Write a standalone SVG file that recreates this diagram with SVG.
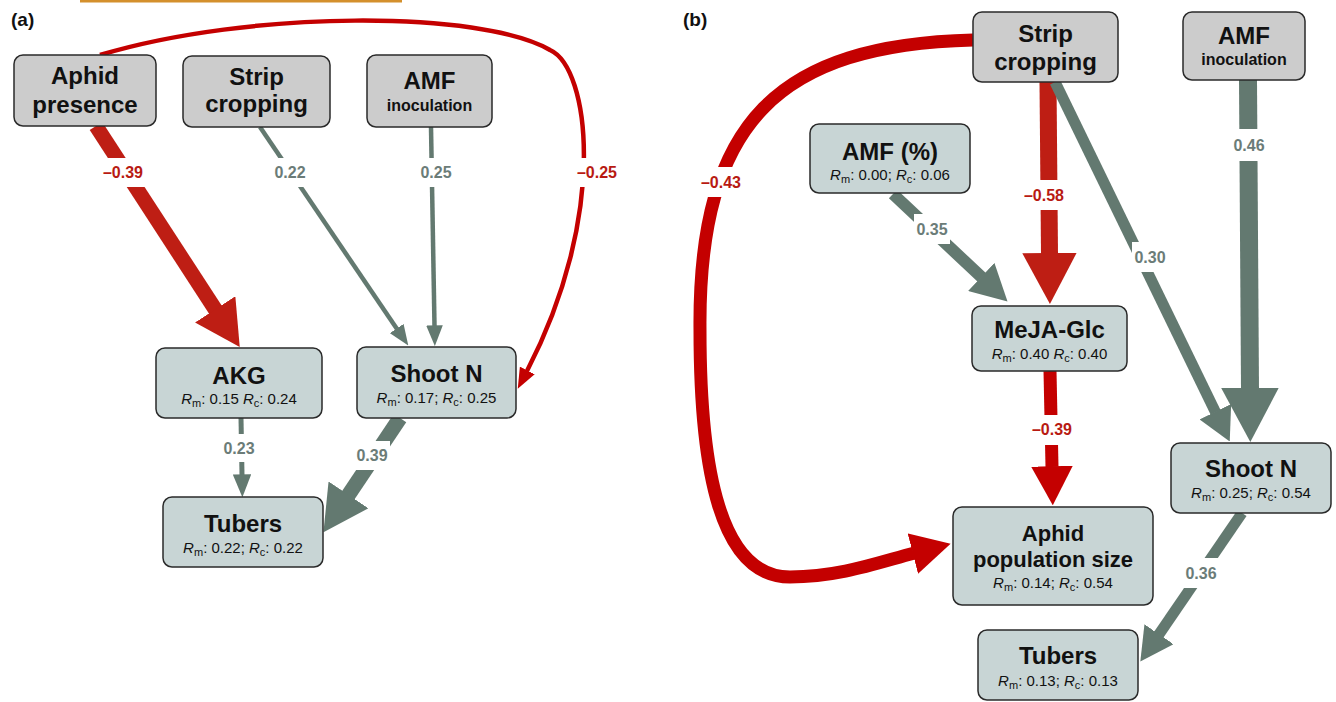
<svg xmlns="http://www.w3.org/2000/svg" width="1336" height="702" viewBox="0 0 1336 702">
<style>
text{font-family:"Liberation Sans",Arial,sans-serif;fill:#111}
.ex{fill:#cccccc;stroke:#2a2a2a;stroke-width:1.5}
.en{fill:#c8d5d5;stroke:#2a2a2a;stroke-width:1.5}
.t{font-size:24px;font-weight:bold;text-anchor:middle}
.t2{font-size:22px;font-weight:bold;text-anchor:middle}
.sm{font-size:16px;font-weight:bold;text-anchor:middle}
.sub{font-size:15px;text-anchor:middle}
.it{font-style:italic}
.lr{font-size:16px;font-weight:bold;text-anchor:middle;fill:#b81a12}
.lg{font-size:16px;font-weight:bold;text-anchor:middle;fill:#6b7c78}
.bg{fill:#ffffff}
.c{fill:none;stroke-linecap:butt}
.ra{stroke:#be1e14}
.rb{stroke:#c40000}
.g{stroke:#637970}
.pl{font-size:19px;font-weight:bold}
</style>
<defs>
<marker id="tR" viewBox="0 0 10 10" refX="0.3" refY="5" markerWidth="4.6" markerHeight="3.7" markerUnits="strokeWidth" orient="auto" preserveAspectRatio="none"><path d="M0,0 L10,5 L0,10 z" fill="#c40000"/></marker>
<marker id="tG" viewBox="0 0 10 10" refX="0.3" refY="5" markerWidth="4.6" markerHeight="3.7" markerUnits="strokeWidth" orient="auto" preserveAspectRatio="none"><path d="M0,0 L10,5 L0,10 z" fill="#637970"/></marker>
<marker id="kRa" viewBox="0 0 10 10" refX="0.2" refY="5" markerWidth="3" markerHeight="3.2" markerUnits="strokeWidth" orient="auto" preserveAspectRatio="none"><path d="M0,0 L10,5 L0,10 z" fill="#be1e14"/></marker>
<marker id="kR" viewBox="0 0 10 10" refX="0.2" refY="5" markerWidth="3" markerHeight="3.2" markerUnits="strokeWidth" orient="auto" preserveAspectRatio="none"><path d="M0,0 L10,5 L0,10 z" fill="#c40000"/></marker>
<marker id="kG" viewBox="0 0 10 10" refX="0.2" refY="5" markerWidth="3" markerHeight="3.2" markerUnits="strokeWidth" orient="auto" preserveAspectRatio="none"><path d="M0,0 L10,5 L0,10 z" fill="#637970"/></marker>
</defs>
<rect width="1336" height="702" fill="#ffffff"/>
<rect x="80" y="0" width="322" height="2.5" fill="#d4902c"/>
<text class="pl" x="11" y="26">(a)</text>
<text class="pl" x="683" y="26">(b)</text>

<g id="connectors">
  <!-- panel a -->
  <path class="c ra" stroke-width="15" d="M96 126 L215.7 310.1" marker-end="url(#kRa)"/>
  <path class="c g" stroke-width="4.5" d="M260 127 L397 329" marker-end="url(#tG)"/>
  <path class="c g" stroke-width="4.5" d="M431 127 L434.5 326" marker-end="url(#tG)"/>
  <path class="c rb" stroke-width="4.5" d="M100 55 C250 10 480 10 550 50 C590 68 608 215 527 371" marker-end="url(#tR)"/>
  <path class="c g" stroke-width="5" d="M241 418 L242 475" marker-end="url(#tG)"/>
  <path class="c g" stroke-width="15" d="M400 418 L348 495.6" marker-end="url(#kG)"/>
  <!-- panel b -->
  <path class="c rb" stroke-width="13" d="M973 40 C780 45 698 120 700 330 C700 470 720 577 790 577 C840 577 880 562 913.6 553.3" marker-end="url(#kR)"/>
  <path class="c ra" stroke-width="17" d="M1048 82 L1049.5 254" marker-end="url(#kRa)"/>
  <path class="c g" stroke-width="11" d="M1055 82 L1215.6 412.3" marker-end="url(#kG)"/>
  <path class="c g" stroke-width="18" d="M1248 80 L1250 389" marker-end="url(#kG)"/>
  <path class="c g" stroke-width="12" d="M893 194 L981.8 277.4" marker-end="url(#kG)"/>
  <path class="c g" stroke-width="11" d="M1242 513 L1158.6 634.8" marker-end="url(#kG)"/>
  <path class="c rb" stroke-width="13" d="M1050 371 L1052 467" marker-end="url(#kR)"/>
  <!-- labels -->
  <g id="edge-labels">
    <rect class="bg" x="100" y="158" width="46" height="29"/><text class="lr" x="123" y="178">–0.39</text>
    <rect class="bg" x="272" y="158" width="36" height="29"/><text class="lg" x="290" y="178">0.22</text>
    <rect class="bg" x="418" y="158" width="36" height="29"/><text class="lg" x="436" y="178">0.25</text>
    <rect class="bg" x="574" y="158" width="46" height="29"/><text class="lr" x="597" y="178">–0.25</text>
    <rect class="bg" x="221" y="434" width="36" height="28"/><text class="lg" x="239" y="454">0.23</text>
    <rect class="bg" x="354" y="441" width="36" height="29"/><text class="lg" x="372" y="461">0.39</text>
    <rect class="bg" x="698" y="167" width="46" height="30"/><text class="lr" x="721" y="188">–0.43</text>
    <rect class="bg" x="1021" y="180" width="46" height="30"/><text class="lr" x="1044" y="201">–0.58</text>
    <rect class="bg" x="1132" y="242" width="36" height="30"/><text class="lg" x="1150" y="263">0.30</text>
    <rect class="bg" x="1231" y="129" width="36" height="32"/><text class="lg" x="1249" y="151">0.46</text>
    <rect class="bg" x="914" y="214" width="36" height="30"/><text class="lg" x="932" y="235">0.35</text>
    <rect class="bg" x="1183" y="558" width="36" height="30"/><text class="lg" x="1201" y="579">0.36</text>
    <rect class="bg" x="1029" y="415" width="46" height="30"/><text class="lr" x="1052" y="435">–0.39</text>
  </g>
</g>

<g id="aphid-presence">
  <rect class="ex" x="14" y="55" width="142" height="71" rx="9"/>
  <text class="t" x="85" y="84">Aphid</text>
  <text class="t" x="85" y="113">presence</text>
</g>
<g id="strip-cropping-a">
  <rect class="ex" x="183" y="56" width="147" height="71" rx="9"/>
  <text class="t" x="256.5" y="85">Strip</text>
  <text class="t" x="256.5" y="112">cropping</text>
</g>
<g id="amf-inoculation-a">
  <rect class="ex" x="367" y="55" width="125" height="72" rx="9"/>
  <text class="t" x="429.5" y="89">AMF</text>
  <text class="sm" x="429.5" y="111">inoculation</text>
</g>
<g id="akg">
  <rect class="en" x="156" y="348" width="166" height="70" rx="9"/>
  <text class="t" x="239" y="384">AKG</text>
  <text class="sub" x="239" y="404"><tspan class="it">R</tspan><tspan font-size="11" dy="3">m</tspan><tspan dy="-3">: 0.15 </tspan><tspan class="it">R</tspan><tspan font-size="11" dy="3">c</tspan><tspan dy="-3">: 0.24</tspan></text>
</g>
<g id="shoot-n-a">
  <rect class="en" x="357" y="347" width="159" height="71" rx="9"/>
  <text class="t" x="436.5" y="382">Shoot N</text>
  <text class="sub" x="436.5" y="403"><tspan class="it">R</tspan><tspan font-size="11" dy="3">m</tspan><tspan dy="-3">: 0.17; </tspan><tspan class="it">R</tspan><tspan font-size="11" dy="3">c</tspan><tspan dy="-3">: 0.25</tspan></text>
</g>
<g id="tubers-a">
  <rect class="en" x="163" y="497" width="160" height="70" rx="9"/>
  <text class="t" x="243" y="532">Tubers</text>
  <text class="sub" x="243" y="553"><tspan class="it">R</tspan><tspan font-size="11" dy="3">m</tspan><tspan dy="-3">: 0.22; </tspan><tspan class="it">R</tspan><tspan font-size="11" dy="3">c</tspan><tspan dy="-3">: 0.22</tspan></text>
</g>

<g id="strip-cropping-b">
  <rect class="ex" x="973" y="12" width="145" height="70" rx="9"/>
  <text class="t" x="1045.5" y="42">Strip</text>
  <text class="t" x="1045.5" y="70">cropping</text>
</g>
<g id="amf-inoculation-b">
  <rect class="ex" x="1183" y="12" width="122" height="68" rx="9"/>
  <text class="t" x="1244" y="44">AMF</text>
  <text class="sm" x="1244" y="65">inoculation</text>
</g>
<g id="amf-percent">
  <rect class="en" x="810" y="124" width="160" height="69" rx="9"/>
  <text class="t" x="890" y="160">AMF (%)</text>
  <text class="sub" x="890" y="180"><tspan class="it">R</tspan><tspan font-size="11" dy="3">m</tspan><tspan dy="-3">: 0.00; </tspan><tspan class="it">R</tspan><tspan font-size="11" dy="3">c</tspan><tspan dy="-3">: 0.06</tspan></text>
</g>
<g id="meja-glc">
  <rect class="en" x="972" y="306" width="155" height="65" rx="9"/>
  <text class="t" x="1049.5" y="338">MeJA-Glc</text>
  <text class="sub" x="1049.5" y="359"><tspan class="it">R</tspan><tspan font-size="11" dy="3">m</tspan><tspan dy="-3">: 0.40 </tspan><tspan class="it">R</tspan><tspan font-size="11" dy="3">c</tspan><tspan dy="-3">: 0.40</tspan></text>
</g>
<g id="shoot-n-b">
  <rect class="en" x="1171" y="443" width="160" height="70" rx="9"/>
  <text class="t" x="1251" y="477">Shoot N</text>
  <text class="sub" x="1251" y="498"><tspan class="it">R</tspan><tspan font-size="11" dy="3">m</tspan><tspan dy="-3">: 0.25; </tspan><tspan class="it">R</tspan><tspan font-size="11" dy="3">c</tspan><tspan dy="-3">: 0.54</tspan></text>
</g>
<g id="aphid-population-size">
  <rect class="en" x="953" y="507" width="200" height="98" rx="9"/>
  <text class="t2" x="1053" y="541">Aphid</text>
  <text class="t2" x="1053" y="567">population size</text>
  <text class="sub" x="1053" y="588"><tspan class="it">R</tspan><tspan font-size="11" dy="3">m</tspan><tspan dy="-3">: 0.14; </tspan><tspan class="it">R</tspan><tspan font-size="11" dy="3">c</tspan><tspan dy="-3">: 0.54</tspan></text>
</g>
<g id="tubers-b">
  <rect class="en" x="978" y="630" width="160" height="70" rx="9"/>
  <text class="t" x="1058" y="664">Tubers</text>
  <text class="sub" x="1058" y="686"><tspan class="it">R</tspan><tspan font-size="11" dy="3">m</tspan><tspan dy="-3">: 0.13; </tspan><tspan class="it">R</tspan><tspan font-size="11" dy="3">c</tspan><tspan dy="-3">: 0.13</tspan></text>
</g>
</svg>
